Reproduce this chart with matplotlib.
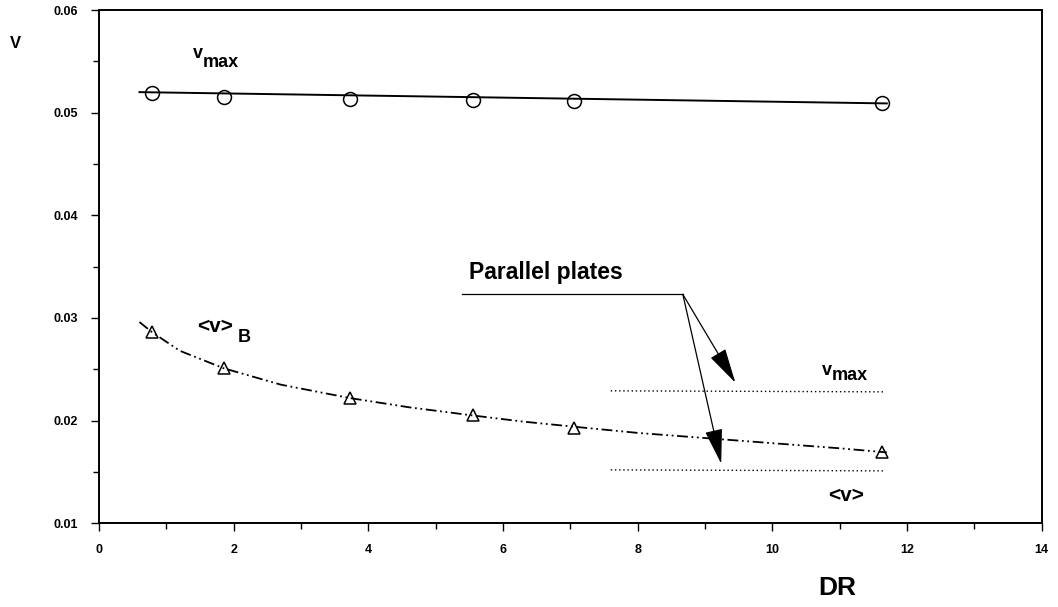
import matplotlib
matplotlib.use("Agg")
import matplotlib.pyplot as plt
import numpy as np

plt.rcParams['font.family'] = ['Liberation Sans', 'DejaVu Sans']
plt.rcParams['font.weight'] = 'bold'

# measured points
dr = [0.79, 1.85, 3.72, 5.55, 7.06, 11.63]
v_max = [0.0519, 0.0515, 0.0513, 0.0512, 0.0511, 0.0509]
v_bulk = [0.0286, 0.0251, 0.0222, 0.0205, 0.0193, 0.0169]

# fitted curves through the data
fit_max_x = [0.6, 11.7]
fit_max_y = [0.0520, 0.0509]
fit_bulk_x = [0.6, 0.79, 1.2, 1.85, 2.7, 3.72, 4.6, 5.55, 6.3, 7.06, 8.0, 9.0, 10.0, 11.0, 11.7]
fit_bulk_y = [0.0296, 0.0286, 0.0268, 0.0251, 0.0235, 0.0222, 0.0213, 0.0205, 0.0199, 0.0194, 0.0188, 0.0183, 0.0178, 0.0173, 0.0169]

# parallel plate reference values
pp_x = [7.6, 11.65]
pp_vmax = [0.0229, 0.0228]
pp_vmean = [0.0152, 0.0151]

# label pointer geometry (data coords)
pp_label_line_x = [5.39, 8.67]
pp_label_line_y = [0.0323, 0.0323]
arrow_tips = [(9.45, 0.0237), (9.24, 0.0158)]

fig = plt.figure(figsize=(10.58, 6.07), dpi=100)
ax = fig.add_axes([0.0936, 0.138, 0.891, 0.8455])

ax.plot(fit_max_x, fit_max_y, color='black', lw=1.4)
ax.plot(dr, v_max, 'o', mfc='none', mec='black', ms=10, mew=1.1)

ax.plot(fit_bulk_x, fit_bulk_y, color='black', lw=1.3, ls=(0, (6, 2, 1, 2, 1, 2)))
ax.plot(dr, v_bulk, '^', mfc='none', mec='black', ms=9, mew=1.1)

ax.plot(pp_x, pp_vmax, color='black', lw=1.0, ls=(0, (1, 2)))
ax.plot(pp_x, pp_vmean, color='black', lw=1.0, ls=(0, (1, 2)))

ax.plot(pp_label_line_x, pp_label_line_y, color='black', lw=0.9)
for tx, ty in arrow_tips:
    ax.annotate('', xy=(tx, ty), xytext=(pp_label_line_x[1], pp_label_line_y[1]),
                arrowprops=dict(arrowstyle='-|>,head_length=2.2,head_width=0.55',
                                color='black', lw=0.9, shrinkA=0, shrinkB=0))

# labels with full-size, lowered subscripts
ax.text(1.395, 0.05532, 'v', fontsize=13, ha='left', va='baseline')
ax.text(1.54, 0.05444, 'max', fontsize=13, ha='left', va='baseline')
ax.text(10.73, 0.02442, 'v', fontsize=13, ha='left', va='baseline')
ax.text(10.875, 0.02394, 'max', fontsize=13, ha='left', va='baseline')
ax.text(1.454, 0.02862, '<v>', fontsize=15, ha='left', va='baseline')
ax.text(2.06, 0.02764, 'B', fontsize=13, ha='left', va='baseline')
ax.text(11.1, 0.01273, '<v>', fontsize=15, ha='center', va='center')
ax.text(6.63, 0.0344, 'Parallel plates', fontsize=16.5, ha='center', va='center')

ax.set_xlim(0, 14)
ax.set_ylim(0.01, 0.06)
ax.set_xticks(np.arange(0, 15, 2))
ax.set_xticks(np.arange(0, 15, 1), minor=True)
ax.set_yticks([0.01, 0.02, 0.03, 0.04, 0.05, 0.06])
ax.set_yticks(np.arange(0.01, 0.0601, 0.005), minor=True)
ax.set_yticklabels(['0.01', '0.02', '0.03', '0.04', '0.05', '0.06'])
ax.tick_params(which='both', direction='out', labelsize=9, width=1)
ax.tick_params(which='major', length=6)
ax.tick_params(which='minor', length=4)
ax.tick_params(axis='x', pad=9)
ax.tick_params(axis='y', pad=9)
for s in ax.spines.values():
    s.set_linewidth(1.4)

fig.text(837 / 1058, 1 - 588 / 607, 'DR', fontsize=19, ha='center', va='center')
fig.text(15 / 1058, 1 - 43 / 607, 'V', fontsize=12, ha='center', va='center')

fig.savefig('out.png', dpi=100)
